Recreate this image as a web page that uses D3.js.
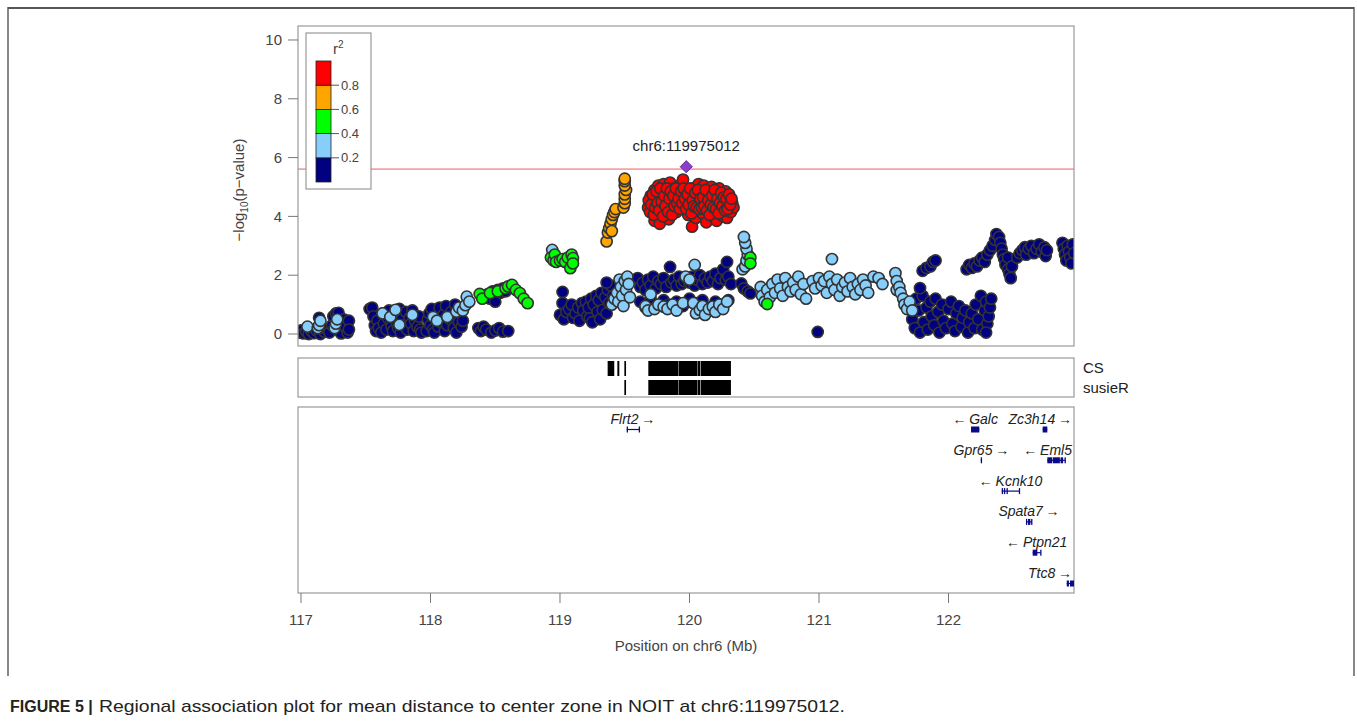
<!DOCTYPE html>
<html>
<head>
<meta charset="utf-8">
<script src="https://cdn.jsdelivr.net/npm/d3@7"></script>
<style>
  body { margin: 0; background: #fff; }
  svg { display: block; font-family: "Liberation Sans", Arial, sans-serif; }
</style>
</head>
<body>
<svg id="chart" width="1357" height="722"></svg>
<script>
// ---- data (position in Mb, -log10 p) ----
const navyPoints = [
  [116.99,0.05],[117.00,0.12],[117.02,0.02],[117.04,0.08],[117.06,0.0],[117.08,0.1],[117.10,0.03],[117.12,0.12],
  [117.14,0.55],[117.15,0.0],[117.18,0.08],[117.20,0.15],[117.22,0.05],[117.24,0.3],[117.25,0.6],[117.27,0.7],
  [117.29,0.72],[117.30,0.1],[117.31,0.02],[117.33,0.5],[117.34,0.25],[117.36,0.05],[117.37,0.45],[117.37,0.15],
  [117.53,0.85],[117.55,0.9],[117.56,0.6],[117.57,0.3],[117.58,0.1],[117.59,0.45],[117.60,0.2],[117.62,0.05],
  [117.63,0.7],[117.64,0.35],[117.66,0.15],[117.67,0.55],[117.68,0.8],[117.70,0.25],[117.71,0.1],[117.72,0.6],
  [117.74,0.4],[117.75,0.2],[117.76,0.85],[117.77,0.05],[117.78,0.5],[117.80,0.3],[117.81,0.75],[117.82,0.15],
  [117.84,0.55],[117.85,0.35],[117.86,0.8],[117.87,0.1],[117.88,0.45],[117.90,0.25],[117.91,0.6],[117.92,0.15],
  [117.93,0.05],[117.97,0.1],[117.98,0.5],[117.99,0.7],[118.00,0.3],[118.01,0.85],[118.02,0.15],[118.03,0.05],
  [118.05,0.55],[118.06,0.25],[118.07,0.9],[118.08,0.4],[118.10,0.65],[118.11,0.1],[118.12,0.95],[118.13,0.3],
  [118.15,0.5],[118.16,0.75],[118.18,0.2],[118.19,1.0],[118.20,0.05],[118.21,0.6],[118.22,0.4],[118.24,0.25],
  [118.25,0.45],[118.37,0.2],[118.39,0.1],[118.41,0.25],[118.43,0.15],[118.47,0.05],[118.50,0.12],[118.53,0.2],
  [118.56,0.08],[118.60,0.1],[118.42,1.25],[118.44,1.35],[118.46,1.2],[118.48,1.45],[118.50,1.3],[118.52,1.5],
  [118.54,1.4],[118.56,1.55],[118.58,1.45],[118.60,1.6],[118.50,1.1],
  [119.02,1.43],[119.02,1.05],[119.00,0.65],[119.03,0.5],[119.05,0.75],[119.07,0.85],[119.09,1.0],[119.10,0.55],
  [119.12,0.7],[119.14,0.9],[119.15,0.45],[119.17,1.05],[119.18,0.8],[119.20,1.1],[119.21,0.6],[119.23,0.54],
  [119.22,0.9],[119.24,1.2],[119.25,0.4],[119.26,1.0],[119.28,1.3],[119.29,0.75],[119.30,1.15],[119.31,0.5],
  [119.32,1.4],[119.33,0.82],[119.35,1.25],[119.36,0.7],[119.37,1.5],[119.38,1.05],[119.39,1.65],[119.41,1.3],
  [119.36,1.75],[119.60,1.9],[119.62,1.6],[119.64,1.75],[119.66,1.5],[119.68,1.85],[119.70,1.65],[119.72,1.95],
  [119.74,1.55],[119.76,1.8],[119.78,1.7],[119.80,1.9],[119.82,1.6],[119.85,2.28],[119.86,1.75],[119.88,1.85],
  [119.90,1.65],[119.92,1.95],[119.94,1.7],[119.96,1.8],[119.98,1.9],[120.00,1.75],[120.02,1.95],[120.04,1.65],
  [120.06,1.85],[120.08,2.0],[120.10,1.7],[120.12,1.9],[120.14,1.75],[120.16,1.95],[120.18,1.8],[120.20,2.05],
  [120.22,1.7],[120.24,1.9],[120.26,2.2],[120.28,1.85],[120.29,2.45],[120.30,1.95],[120.32,1.7],
  [119.62,1.1],[119.66,0.9],[119.70,1.2],[119.75,0.95],[119.80,1.15],[119.84,1.0],[119.90,1.1],[119.95,0.95],
  [120.00,1.2],[120.05,1.05],[120.10,1.15],[120.15,0.9],[120.20,1.1],[120.25,1.0],[120.30,1.15],
  [120.40,1.72],[120.42,1.55],[120.45,1.45],[120.47,1.38],[120.99,0.07],
  [121.70,1.0],[121.72,0.5],[121.74,0.2],[121.75,1.2],[121.77,0.8],[121.78,0.05],[121.80,1.3],[121.81,0.4],
  [121.83,0.9],[121.84,0.15],[121.86,1.1],[121.87,0.6],[121.89,0.3],[121.90,1.2],[121.92,0.75],[121.93,0.05],
  [121.95,1.0],[121.96,0.45],[121.98,0.2],[122.00,0.85],[122.02,1.1],[122.03,0.35],[122.05,0.1],[122.06,0.7],
  [122.08,0.95],[122.10,0.25],[122.11,0.55],[122.13,0.8],[122.15,0.05],[122.16,0.4],[122.18,0.7],[122.20,0.2],
  [122.21,1.0],[122.23,0.5],[122.25,1.3],[122.26,0.15],[122.28,0.8],[122.29,1.1],[122.30,0.35],[122.31,0.6],
  [122.32,0.9],[122.33,1.2],[122.29,0.05],[121.78,1.56],
  [121.80,2.15],[121.83,2.25],[121.86,2.3],[121.88,2.45],[121.90,2.5],
  [122.14,2.2],[122.16,2.35],[122.18,2.25],[122.20,2.4],[122.22,2.3],[122.24,2.5],[122.26,2.6],[122.28,2.45],
  [122.30,2.7],[122.32,2.85],[122.34,3.0],[122.36,3.2],[122.37,3.4],[122.39,3.3],[122.40,3.1],[122.41,2.9],
  [122.42,2.7],[122.43,2.55],[122.44,2.35],[122.46,2.2],[122.47,2.05],[122.48,1.9],[122.46,2.6],[122.49,2.3],
  [122.53,2.6],[122.55,2.75],[122.57,2.85],[122.59,2.95],[122.60,2.7],[122.62,2.9],[122.64,3.0],[122.66,2.75],
  [122.68,2.9],[122.70,3.05],[122.72,2.8],[122.74,2.95],[122.75,2.65],[122.76,2.85],
  [122.88,3.1],[122.89,2.9],[122.90,2.7],[122.91,2.5],[122.92,3.0],[122.93,2.8],[122.94,2.6],[122.95,2.4],
  [122.96,3.05],[122.97,2.75]
];
const lightBluePoints = [
  [117.05,0.25],[117.13,0.2],[117.14,0.3],[117.15,0.45],[117.26,0.2],[117.27,0.35],[117.28,0.5],
  [117.63,0.7],[117.69,0.58],[117.73,0.82],[117.76,0.31],[117.86,0.65],
  [118.02,0.58],[118.05,0.45],[118.13,0.58],[118.20,0.76],[118.22,0.9],[118.25,0.8],[118.27,0.98],[118.28,1.27],[118.30,1.1],
  [118.94,2.86],
  [119.40,1.0],[119.42,1.2],[119.44,1.4],[119.45,1.1],[119.46,1.85],[119.47,1.6],[119.48,1.3],[119.49,0.95],
  [119.50,1.8],[119.51,1.5],[119.52,1.95],[119.53,1.7],[119.54,1.25],
  [119.66,0.95],[119.68,0.8],[119.70,1.35],[119.73,0.85],[119.76,1.0],[119.80,0.93],[119.83,0.85],[119.87,1.0],
  [119.90,0.8],[119.95,1.05],[119.97,1.95],[120.00,1.85],[120.03,1.05],[120.04,2.35],[120.05,0.7],[120.08,0.82],
  [120.10,0.95],[120.12,0.65],[120.15,0.85],[120.18,0.93],[120.20,0.75],[120.23,1.0],[120.26,0.85],[120.29,1.1],
  [120.41,2.2],[120.43,2.3],[120.44,2.5],[120.45,2.7],[120.44,2.9],[120.43,3.1],[120.42,3.3],
  [120.55,1.6],[120.56,1.3],[120.58,1.1],[120.60,1.5],[120.62,1.25],[120.64,1.7],[120.66,1.4],[120.68,1.85],
  [120.70,1.55],[120.72,1.3],[120.74,1.9],[120.76,1.6],[120.78,1.45],[120.80,1.75],[120.82,1.5],[120.84,1.95],
  [120.86,1.35],[120.88,1.7],[120.90,1.2],[120.95,1.8],[120.97,1.55],[121.00,1.9],[121.02,1.65],[121.04,1.8],
  [121.06,1.4],[121.08,1.95],[121.10,2.55],[121.10,1.7],[121.12,1.5],[121.14,1.85],[121.16,1.3],[121.18,1.6],
  [121.20,1.75],[121.22,1.45],[121.24,1.9],[121.26,1.6],[121.28,1.35],[121.30,1.7],[121.32,1.5],[121.34,1.85],
  [121.36,1.65],[121.38,1.4],[121.42,1.95],[121.46,1.9],[121.49,1.7],
  [121.59,2.07],[121.60,1.8],[121.60,1.5],[121.62,1.6],[121.63,1.4],[121.65,1.2],[121.66,1.0],[121.68,0.85],
  [121.70,1.1],[121.72,0.8]
];
const greenPoints = [
  [118.38,1.36],[118.40,1.2],[118.46,1.39],[118.52,1.45],[118.58,1.55],[118.60,1.62],[118.63,1.67],[118.66,1.5],
  [118.69,1.39],[118.72,1.2],[118.75,1.05],
  [118.93,2.6],[118.95,2.5],[118.96,2.7],[118.97,2.45],[119.00,2.5],[119.02,2.55],[119.04,2.45],[119.06,2.6],
  [119.08,2.24],[119.09,2.7],[119.10,2.58],[119.10,2.4],
  [120.47,2.6],[120.47,2.4],[120.60,1.02]
];
const orangePoints = [
  [119.36,3.15],[119.37,3.45],[119.38,3.6],[119.39,3.75],[119.40,3.5],[119.40,3.9],[119.41,4.05],[119.42,4.15],
  [119.43,4.25],[119.49,4.3],[119.50,4.45],[119.50,4.6],[119.50,4.75],[119.51,4.9],[119.50,5.05],[119.50,5.2],[119.50,5.28]
];
const redPoints = [
  [119.68,4.3],[119.69,4.5],[119.70,4.7],[119.71,4.2],[119.72,4.45],[119.73,3.85],[119.73,4.9],[119.74,4.6],
  [119.75,4.1],[119.76,5.05],[119.77,4.4],[119.77,3.75],[119.78,4.75],[119.79,4.25],[119.80,5.1],[119.81,4.55],
  [119.82,4.2],[119.83,4.85],[119.84,4.4],[119.84,3.9],[119.85,5.15],[119.86,4.65],[119.87,4.3],[119.88,4.95],
  [119.89,4.5],[119.90,4.15],[119.91,4.8],[119.92,5.05],[119.93,4.4],[119.94,4.65],[119.95,5.25],[119.96,4.3],
  [119.97,4.85],[119.98,4.55],[119.99,4.05],[120.00,4.75],[120.01,4.35],[120.02,3.65],[120.03,4.95],[120.04,4.2],
  [120.05,3.95],[120.06,4.6],[120.07,5.1],[120.08,4.4],[120.09,4.8],[120.10,4.1],[120.11,5.05],[120.12,4.5],
  [120.13,3.8],[120.14,4.85],[120.15,4.3],[120.16,4.65],[120.17,5.0],[120.18,4.0],[120.19,4.45],[120.20,4.75],
  [120.21,3.85],[120.22,4.55],[120.23,4.95],[120.24,4.25],[120.25,4.7],[120.26,4.0],[120.27,4.5],[120.28,4.85],
  [120.29,3.95],[120.30,4.35],[120.31,4.6],[120.32,4.15],[120.33,4.45],[120.34,4.3],
  [119.685,4.55],[119.695,4.15],[119.705,4.4],[119.715,4.75],[119.725,4.05],[119.735,4.3],[119.745,4.85],[119.755,4.45],
  [119.765,4.2],[119.775,4.95],[119.785,4.5],[119.795,4.0],[119.805,4.7],[119.815,4.35],[119.825,4.95],[119.835,4.15],
  [119.845,4.6],[119.855,4.85],[119.865,4.05],[119.875,4.7],[119.885,4.35],[119.895,4.95],[119.905,4.45],[119.915,4.6],
  [119.925,4.25],[119.935,4.85],[119.945,4.45],[119.955,4.95],[119.965,4.6],[119.975,4.25],[119.985,4.75],[119.995,4.4],
  [120.005,4.95],[120.015,4.1],[120.025,4.55],[120.035,4.35],[120.045,4.8],[120.055,4.3],[120.065,4.9],[120.075,4.25],
  [120.085,4.6],[120.095,4.3],[120.105,4.65],[120.115,4.35],[120.125,4.9],[120.135,4.2],[120.145,4.55],[120.155,4.05],
  [120.165,4.4],[120.175,4.7],[120.185,4.3],[120.195,4.9],[120.205,4.25],[120.215,4.6],[120.225,4.1],[120.235,4.45],
  [120.245,4.8],[120.255,4.35],[120.265,4.65],[120.275,4.2],[120.285,4.6],[120.295,4.25],[120.305,4.75],[120.315,4.4],
  [120.325,4.6]
];
const leadSnp = { name: 'chr6:119975012', pos: 119.975012, logp: 5.69 };
const threshold = 5.61;

const r2Breaks = [0, 0.2, 0.4, 0.6, 0.8, 1];
const r2Colors = ['#000080', '#87CEFA', '#00FF00', '#FFA500', '#FF0000'];

// credible set intervals (Mb)
const csIntervals = [[119.368,119.419],[119.443,119.458],[119.497,119.510],[119.682,119.912],[119.915,120.062],[120.065,120.084],[120.088,120.320]];
const susieIntervals = [[119.497,119.510],[119.682,119.912],[119.915,120.062],[120.065,120.084],[120.088,120.320]];

// genes
const geneNames = ['Flrt2', 'Galc', 'Zc3h14', 'Gpr65', 'Eml5', 'Kcnk10', 'Spata7', 'Ptpn21', 'Ttc8'];
const geneStrands = ['+', '-', '+', '+', '-', '-', '+', '-', '+'];
const geneRows = [0, 0, 0, 1, 1, 2, 3, 4, 5];
const geneStarts = [119.515, 122.174, 122.727, 122.249, 122.763, 122.411, 122.598, 122.650, 122.913];
const geneEnds = [119.612, 122.238, 122.763, 122.259, 122.900, 122.547, 122.645, 122.712, 123.000];
const geneExons = [
  [[119.515,119.519],[119.608,119.612]],
  [[122.174,122.238]],
  [[122.727,122.763]],
  [[122.249,122.259]],
  [[122.763,122.800],[122.805,122.860],[122.865,122.885],[122.896,122.900]],
  [[122.411,122.418],[122.428,122.435],[122.448,122.456],[122.543,122.547]],
  [[122.598,122.608],[122.614,122.632],[122.638,122.645]],
  [[122.650,122.686],[122.708,122.712]],
  [[122.913,122.930],[122.938,123.000]]
];

const xTicks = [117, 118, 119, 120, 121, 122];
const yTicks = [0, 2, 4, 6, 8, 10];
const legendTicks = [0.2, 0.4, 0.6, 0.8];

// ---- layout ----
const svg = d3.select('#chart');
const left = 298, right = 1074;
const top1 = 26, bottom1 = 346;
const csTop = 358, csBottom = 397;
const geneTop = 407, geneBottom = 593;
const textColor = '#444';

const x = d3.scaleLinear().domain([116.977, 122.969]).range([left, right]);
const y = d3.scaleLinear().domain([-0.408, 10.476]).range([bottom1, top1]);
const r2Color = d3.scaleThreshold().domain(r2Breaks.slice(1, 5)).range(r2Colors);

// outer figure frame
svg.append('path')
  .attr('d', 'M8,676 L8,8 L1354,8 L1354,676')
  .attr('fill', 'none').attr('stroke', '#888').attr('stroke-width', 2);
svg.append('line').attr('x1', 8).attr('x2', 1354).attr('y1', 8).attr('y2', 8)
  .attr('stroke', '#444').attr('stroke-width', 1.5);

svg.append('clipPath').attr('id', 'clipTop')
  .append('rect').attr('x', left).attr('y', top1).attr('width', right - left).attr('height', bottom1 - top1);
svg.append('clipPath').attr('id', 'clipGene')
  .append('rect').attr('x', left).attr('y', geneTop).attr('width', right - left).attr('height', geneBottom - geneTop);

// threshold line
svg.append('line')
  .attr('x1', left).attr('x2', right)
  .attr('y1', y(threshold)).attr('y2', y(threshold))
  .attr('stroke', '#f45a5a').attr('stroke-width', 1);

// scatter points, low r2 first
const groups = [
  [navyPoints, 0.1], [lightBluePoints, 0.3], [greenPoints, 0.5], [orangePoints, 0.7], [redPoints, 0.9]
];
const pts = svg.append('g').attr('clip-path', 'url(#clipTop)');
groups.forEach(([arr, r2]) => {
  pts.selectAll(null).data(arr).enter()
    .append('circle')
    .attr('cx', d => x(d[0]))
    .attr('cy', d => y(d[1]))
    .attr('r', 5.6)
    .attr('fill', r2Color(r2))
    .attr('stroke', '#333')
    .attr('stroke-width', 1.6);
});

// lead snp
const sym = d3.symbol().type(d3.symbolDiamond2).size(95);
svg.append('path')
  .attr('d', sym())
  .attr('transform', 'translate(' + x(leadSnp.pos) + ',' + y(leadSnp.logp) + ')')
  .attr('fill', '#8a3fc9').attr('stroke', '#6a2c9c').attr('stroke-width', 1);
svg.append('text')
  .attr('x', x(leadSnp.pos)).attr('y', y(leadSnp.logp) - 16)
  .attr('text-anchor', 'middle')
  .style('font-size', '15px').attr('fill', '#222')
  .text(leadSnp.name);

// top panel box + y axis
svg.append('rect')
  .attr('x', left).attr('y', top1).attr('width', right - left).attr('height', bottom1 - top1)
  .attr('fill', 'none').attr('stroke', '#999').attr('stroke-width', 1.2);
const yAxis = svg.append('g');
yTicks.forEach(t => {
  yAxis.append('line').attr('x1', left - 10).attr('x2', left).attr('y1', y(t)).attr('y2', y(t))
    .attr('stroke', '#777');
  yAxis.append('text').attr('x', left - 16).attr('y', y(t)).attr('dy', '0.35em')
    .attr('text-anchor', 'end').style('font-size', '15px').attr('fill', textColor).text(t);
});
const ylab = svg.append('text')
  .attr('transform', 'translate(244,' + ((top1 + bottom1) / 2 + 4) + ') rotate(-90)')
  .attr('text-anchor', 'middle').style('font-size', '15px').attr('fill', textColor);
ylab.append('tspan').text('\u2212log');
ylab.append('tspan').attr('dy', 4).style('font-size', '10px').text('10');
ylab.append('tspan').attr('dy', -4).text('(p\u2212value)');

// legend
const lg = svg.append('g');
lg.append('rect').attr('x', 306).attr('y', 33).attr('width', 65).attr('height', 156)
  .attr('fill', '#fff').attr('stroke', '#999').attr('stroke-width', 1.2);
const ly = d3.scaleLinear().domain([0, 1]).range([182, 61]);
for (let i = 0; i < r2Colors.length; i++) {
  lg.append('rect')
    .attr('x', 316).attr('width', 15)
    .attr('y', ly(r2Breaks[i + 1])).attr('height', ly(r2Breaks[i]) - ly(r2Breaks[i + 1]))
    .attr('fill', r2Colors[i]).attr('stroke', '#222').attr('stroke-width', 0.8);
}
legendTicks.forEach(t => {
  lg.append('line').attr('x1', 331).attr('x2', 339).attr('y1', ly(t)).attr('y2', ly(t)).attr('stroke', '#555');
  lg.append('text').attr('x', 341).attr('y', ly(t)).attr('dy', '0.35em')
    .style('font-size', '13px').attr('fill', textColor).text(t.toFixed(1));
});
const lt = lg.append('text').attr('x', 333).attr('y', 54).style('font-size', '15px').attr('fill', textColor);
lt.append('tspan').text('r');
lt.append('tspan').attr('dy', -6).style('font-size', '10px').text('2');

// credible sets panel
svg.append('rect')
  .attr('x', left).attr('y', csTop).attr('width', right - left).attr('height', csBottom - csTop)
  .attr('fill', 'none').attr('stroke', '#999').attr('stroke-width', 1.2);
[[csIntervals, 361], [susieIntervals, 380]].forEach(([iv, yy]) => {
  svg.append('g').selectAll('rect').data(iv).enter()
    .append('rect')
    .attr('x', d => x(d[0])).attr('width', d => Math.max(1.5, x(d[1]) - x(d[0])))
    .attr('y', yy).attr('height', 15)
    .attr('fill', '#000');
});
svg.append('text').attr('x', 1083).attr('y', 368).attr('dy', '0.35em')
  .style('font-size', '15px').attr('fill', '#222').text('CS');
svg.append('text').attr('x', 1083).attr('y', 388).attr('dy', '0.35em')
  .style('font-size', '15px').attr('fill', '#222').text('susieR');

// genes panel
svg.append('rect')
  .attr('x', left).attr('y', geneTop).attr('width', right - left).attr('height', geneBottom - geneTop)
  .attr('fill', 'none').attr('stroke', '#999').attr('stroke-width', 1.2);
const gg = svg.append('g');
const gClip = svg.append('g').attr('clip-path', 'url(#clipGene)');
const geneColor = '#0a0a85';
geneNames.forEach((name, i) => {
  const labY = 419 + geneRows[i] * 30.8;
  const barY = labY + 10.5;
  gClip.append('line')
    .attr('x1', x(geneStarts[i])).attr('x2', x(geneEnds[i]))
    .attr('y1', barY).attr('y2', barY)
    .attr('stroke', geneColor).attr('stroke-width', 1.2);
  geneExons[i].forEach(e => {
    gClip.append('rect')
      .attr('x', x(e[0])).attr('width', Math.max(1.3, x(e[1]) - x(e[0])))
      .attr('y', barY - 3).attr('height', 6)
      .attr('fill', geneColor);
  });
  const t = gg.append('text').attr('y', labY).attr('dy', '0.35em')
    .style('font-size', '14px').attr('fill', '#222');
  if (geneStrands[i] === '-') {
    t.append('tspan').text('\u2190\u2009');
    t.append('tspan').style('font-style', 'italic').text(name);
  } else {
    t.append('tspan').style('font-style', 'italic').text(name);
    t.append('tspan').text('\u2009\u2192');
  }
  const w = t.node().getComputedTextLength();
  const cx = x((geneStarts[i] + Math.min(geneEnds[i], 122.969)) / 2);
  let lx = cx - w / 2;
  if (lx + w > 1072) lx = 1072 - w;
  t.attr('x', lx);
});

// x axis
const xAxis = svg.append('g');
xTicks.forEach(t => {
  xAxis.append('line').attr('x1', x(t)).attr('x2', x(t)).attr('y1', geneBottom).attr('y2', geneBottom + 10)
    .attr('stroke', '#777');
  xAxis.append('text').attr('x', x(t)).attr('y', 620).attr('dy', '0.35em')
    .attr('text-anchor', 'middle').style('font-size', '15px').attr('fill', textColor).text(t);
});
svg.append('text').attr('x', (left + right) / 2).attr('y', 646).attr('dy', '0.35em')
  .attr('text-anchor', 'middle').style('font-size', '15px').attr('fill', textColor)
  .text('Position on chr6 (Mb)');

// caption
svg.append('text').attr('x', 10).attr('y', 712)
  .style('font-size', '16px').style('font-weight', 'bold').attr('fill', '#222')
  .text('FIGURE 5 |');
svg.append('text').attr('x', 99).attr('y', 712)
  .style('font-size', '17px').attr('fill', '#222')
  .attr('textLength', 746).attr('lengthAdjust', 'spacingAndGlyphs')
  .text('Regional association plot for mean distance to center zone in NOIT at chr6:119975012.');
</script>
</body>
</html>
